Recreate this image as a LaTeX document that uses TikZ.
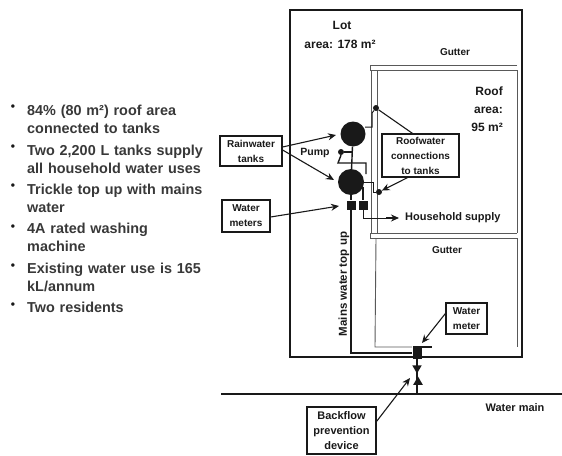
\documentclass[tikz,border=0pt]{standalone}
\usepackage{fontspec}
\setmainfont{Liberation Sans}
\usetikzlibrary{arrows.meta,shapes.geometric,calc}
\definecolor{ink}{gray}{0.1}
\tikzset{
  every node/.style={text=ink},
  lbl/.style={font=\fontsize{#1}{18}\selectfont\bfseries,align=center,inner sep=0pt},
  lbl/.default=11,
  boxed/.style={draw=ink,line width=1.2pt,fill=white,font=\fontsize{10}{15}\selectfont\bfseries,align=center,inner sep=0pt,minimum width=#1},
  bul/.style={font=\fontsize{14.4}{18}\selectfont\bfseries,align=left,anchor=north west,inner sep=0pt,text width=190pt,text=black!78},
  dotn/.style={font=\fontsize{12}{12}\selectfont\bfseries,inner sep=0pt},
  pointer/.style={draw=ink,line width=1.1pt,-{Stealth[length=8pt,width=7pt]}},
  pipe/.style={draw=ink,line width=1.4pt},
  roofline/.style={draw=black!65,line width=.9pt},
  outer/.style={draw=ink,line width=1.9pt},
  tank/.style={circle,fill=ink,draw=none,minimum size=#1,inner sep=0pt},
  meterbox/.style={rectangle,fill=ink,draw=none,minimum size=9pt,inner sep=0pt},
  joint/.style={circle,fill=ink,draw=none,minimum size=6pt,inner sep=0pt}
}
\begin{document}
\begin{tikzpicture}[x=1pt,y=-1pt,line join=miter]
\useasboundingbox (0,0) rectangle (562,455);
% bullets
\foreach \yy/\nm in {108/b1,148/b2,187/b3,228/b4,267/b5,306/b6}
  \node[dotn] (\nm) at (13,\yy) {•};
\node[bul] (t1) at (27,105) {84\% (80 m²) roof area\\connected to tanks};
\node[bul] (t2) at (27,145) {Two 2,200 L tanks supply\\all household water uses};
\node[bul] (t3) at (27,184) {Trickle top up with mains\\water};
\node[bul] (t4) at (27,223) {4A rated washing\\machine};
\node[bul] (t5) at (27,263) {Existing water use is 165\\kL/annum};
\node[bul] (t6) at (27,302) {Two residents};
% lot
\node[draw=ink,line width=1.9pt,minimum width=232pt,minimum height=347pt,inner sep=0pt] (lot) at (406,183.5) {};
% roof
\draw[roofline] (517,65) -- (370,65) -- (370,70) -- (517,70);
\draw[roofline] (517,233) -- (370,233) -- (370,238) -- (517,238);
\draw[roofline] (371,70) -- (371,233) (377,70) -- (377,233);
\draw[roofline] (376,238) -- (375,347) -- (412,347);
\draw[roofline] (517,70) -- (517,233) (517,238) -- (517,347);
% main
\coordinate (mainL) at (221,394);
\coordinate (mainR) at (562,394);
\draw[outer] (mainL) -- (mainR);
% tanks etc
\node[tank=25pt] (tankA) at (353,134) {};
\node[tank=26pt] (tankB) at (351,182) {};
\node[meterbox] (mA) at (351,205) {};
\node[meterbox] (mB) at (363,205) {};
\node[joint] (jA) at (376,108) {};
\node[joint] (jB) at (379,192) {};
\node[joint] (pump) at (341,152) {};
\node[rectangle,fill=ink,minimum width=9pt,minimum height=12pt,inner sep=0pt] (bigm) at (417,353) {};
\coordinate (barL) at (413,347);
\coordinate (barR) at (432,347);
\draw[pipe] (barL) -- (barR);
\coordinate (mainT) at (417,394);
\node[regular polygon,regular polygon sides=3,fill=ink,inner sep=0pt,minimum size=11pt] (vUp) at (418,382) {};
\node[regular polygon,regular polygon sides=3,shape border rotate=180,fill=ink,inner sep=0pt,minimum size=11pt] (vDn) at (417,368) {};
\draw[pipe] (mainT) -- (bigm.south);
% pipes
\coordinate (p1) at (365,127);
\coordinate (p2) at (372,127);
\coordinate (p3) at (372,113);
\coordinate (p4) at (338,163);
\coordinate (p5) at (366,163);
\coordinate (p6) at (366,174);
\coordinate (p7) at (373,182);
\coordinate (p8) at (373,192);
\coordinate (p9) at (351,353);
\coordinate (p10) at (363,187);
\draw[pipe] (tankA) -- (tankB);
\draw[pipe] (pump.east) -- (353,152);
\draw[pipe] (pump.south) -- (p4) -- (p5) -- (p6);
\draw[pipe,line width=1pt] (p1) -- (p2) -- (p3) -- (jA);
\draw[pipe,line width=1pt] (tankB.east) -- (p7) -- (p8) -- (jB);
\draw[pipe] (tankB) -- (mA);
\draw[pipe] (p10) -- (mB);
\draw[pipe] (mA) -- (p9) -- (bigm.west);
\coordinate (hh) at (386,218);
\coordinate (hh2) at (399,218);
\coordinate (hh0) at (363,218);
\draw[pipe,line width=1pt] (mB) -- (hh0) -- (hh);
\draw[pointer] (hh) -- (hh2);
% text labels
\node[lbl=12] (lotT) at (342,25) {Lot};
\node[lbl=12] (lotA) at (340,44) {area: 178 m²};
\node[lbl=10] (g1) at (455,52) {Gutter};
\node[lbl=12,align=right,anchor=north east] (roof) at (503,87) {Roof\\area:\\95 m²};
\node[lbl=11,anchor=west] (hs) at (405,218) {Household supply};
\node[lbl=10] (g2) at (447,250) {Gutter};
\node[lbl=11] (wm) at (515,408) {Water main};
\node[lbl=10.5] (pl) at (315,153) {Pump};
\node[lbl=11.5,rotate=90] (mw) at (344,284) {Mains water top up};
% boxes
\node[boxed=62pt,minimum height=30pt] (bR) at (251,151) {Rainwater\\tanks};
\node[boxed=77pt,minimum height=43pt] (bC) at (420.5,155.5) {Roofwater\\connections\\to tanks};
\node[boxed=48pt,minimum height=32pt] (bW) at (246,216) {Water\\meters};
\node[boxed=41pt,minimum height=31pt] (bM) at (466.5,318.5) {Water\\meter};
\node[boxed=69pt,minimum height=47pt,font=\fontsize{11}{15}\selectfont\bfseries] (bB) at (341.5,430.5) {Backflow\\prevention\\device};
% pointers
\coordinate (aA) at (336,135);
\coordinate (aB) at (334,180);
\coordinate (aM) at (339,206);
\coordinate (aV) at (422,343);
\coordinate (aF) at (410,378);
\draw[pointer] (bR.east) ++(0,-4) -- (aA);
\draw[pointer] (bR.east) ++(0,-1) -- (aB);
\draw[pointer] (bW.east) ++(0,1) -- (aM);
\draw[draw=ink,line width=1.1pt] (jA) -- ($(bC.north)+(-8,0)$);
\draw[pointer] (bC.south) ++(-13,0) -- (jB);
\draw[pointer] (bM.west) ++(0,-5) -- (aV);
\draw[pointer] (bB.north east) ++(0,15) -- (aF);
\end{tikzpicture}
\end{document}
